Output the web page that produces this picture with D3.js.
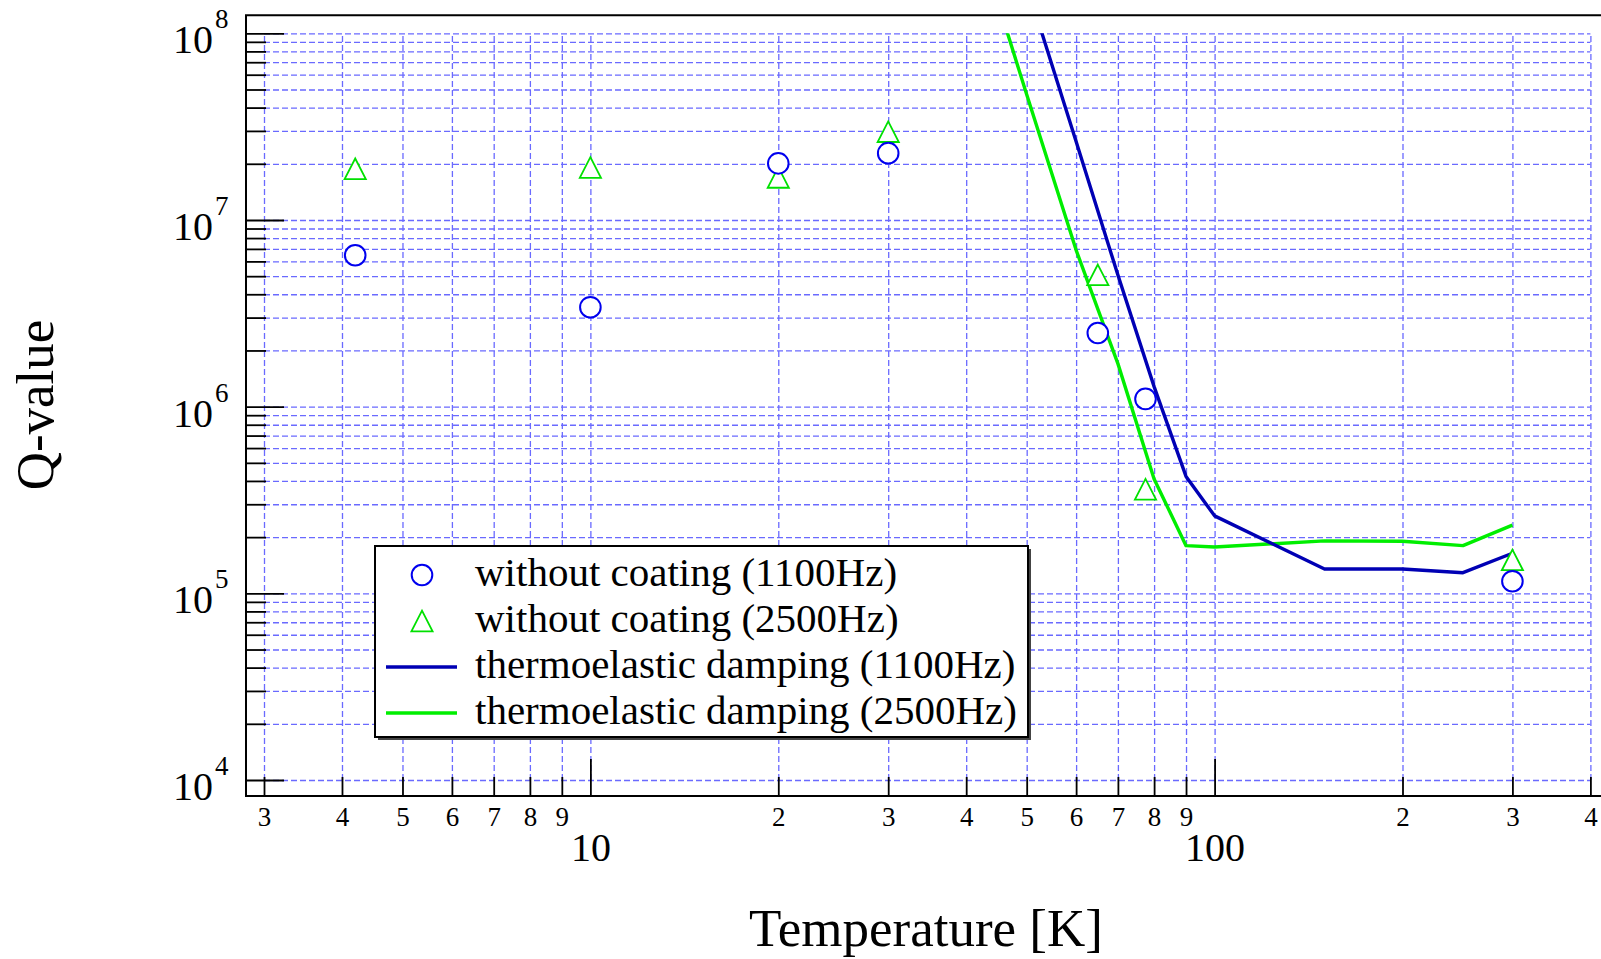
<!DOCTYPE html>
<html>
<head>
<meta charset="utf-8">
<script src="https://cdn.jsdelivr.net/npm/d3@7"></script>
<style>
  html, body { margin: 0; padding: 0; background: #fff; }
  svg { display: block; font-family: "Liberation Serif", "Times New Roman", serif; }
  .grid path, .ticks path { display: none; }
  .grid line { stroke: #6a6aff; stroke-width: 1.3; stroke-dasharray: 6 3; }
  .ticks line { stroke: #000; stroke-width: 1.8; }
  .ticks text { fill: #000; font-family: "Liberation Serif", serif; }
</style>
</head>
<body>
<div class="container"></div>
<script>
// measured Q-values (no coating)
const measuredTemps = [4.2, 10, 20, 30, 65, 77.5, 300];
const qNoCoating1100 = [6.47e6, 3.41e6, 2.01e7, 2.28e7, 2.48e6, 1.1e6, 1.16e5];
const qNoCoating2500 = [1.88e7, 1.91e7, 1.69e7, 2.97e7, 5.08e6, 3.61e5, 1.51e5];

// thermoelastic damping estimates
const modelTemps = [45, 50, 60, 70, 80, 90, 100, 150, 200, 250, 300];
const tedQ1100 = [5.5e8, 1.82e8, 2.63e7, 5.07e6, 1.28e6, 4.23e5, 2.6e5, 1.35e5, 1.35e5, 1.29e5, 1.64e5];
const tedQ2500 = [1.45e8, 4.7e7, 6.9e6, 1.7e6, 4.1e5, 1.8e5, 1.77e5, 1.91e5, 1.9e5, 1.8e5, 2.32e5];

// ticks
const minorTempTicks = [3, 4, 5, 6, 7, 8, 9, 20, 30, 40, 50, 60, 70, 80, 90, 200, 300, 400];
const majorTempTicks = [10, 100];
const qDecades = [1e4, 1e5, 1e6, 1e7, 1e8];
const qMinorSteps = [2, 3, 4, 5, 6, 7, 8, 9];

const legendLabels = [
  "without coating (1100Hz)",
  "without coating (2500Hz)",
  "thermoelastic damping (1100Hz)",
  "thermoelastic damping (2500Hz)"
];

const blueMark = "#0000ee", greenMark = "#00e000";
const blueLine = "#0000b4", greenLine = "#00ee00";

const width = 1601;
const height = 959;
const plot = { left: 264, right: 1590.4, top: 33.3, bottom: 780 };
const frame = { left: 246, top: 15.3, bottom: 796 };

const qMinorTicks = qDecades.slice(0, -1).flatMap(d => qMinorSteps.map(s => s * d));

let svg = d3.select(".container").append("svg")
  .attr("width", width).attr("height", height);

// Scales
let xScale = d3.scaleLog([3, 400], [plot.left, plot.right]);
let yScale = d3.scaleLog([1e4, 1e8], [plot.bottom, plot.top]);

// Grid
svg.append("g").attr("class", "grid")
  .attr("transform", `translate(0, ${plot.bottom})`)
  .call(d3.axisBottom(xScale).tickValues(minorTempTicks.concat(majorTempTicks))
    .tickSize(-(plot.bottom - plot.top)).tickFormat(""));

svg.append("g").attr("class", "grid")
  .attr("transform", `translate(${plot.left}, 0)`)
  .call(d3.axisLeft(yScale).tickValues(qMinorTicks.concat(qDecades))
    .tickSize(-(plot.right - plot.left)).tickFormat(""));

// Frame
svg.append("path")
  .attr("d", `M${width},${frame.top}H${frame.left}V${frame.bottom}H${width}`)
  .attr("fill", "none").attr("stroke", "#000").attr("stroke-width", 2);

// Y ticks
svg.append("g").attr("class", "ticks")
  .attr("transform", `translate(${frame.left}, 0)`)
  .call(d3.axisLeft(yScale).tickValues(qMinorTicks).tickSize(-20).tickFormat(""));
svg.append("g").attr("class", "ticks")
  .attr("transform", `translate(${frame.left}, 0)`)
  .call(d3.axisLeft(yScale).tickValues(qDecades).tickSize(-38).tickFormat(""));

let yLabels = svg.append("g").selectAll("g")
  .data(qDecades).enter().append("g")
  .attr("transform", d => `translate(0, ${yScale(d)})`);
yLabels.append("text")
  .attr("x", 213).attr("y", 20)
  .attr("text-anchor", "end").attr("font-size", 40)
  .text("10");
yLabels.append("text")
  .attr("x", 215).attr("y", -5)
  .attr("font-size", 27)
  .text(d => Math.round(Math.log10(d)));

// X ticks
const leadDigit = d => Math.round(d / Math.pow(10, Math.floor(Math.log10(d) + 1e-9)));

let xMinor = svg.append("g").attr("class", "ticks")
  .attr("transform", `translate(0, ${frame.bottom})`)
  .call(d3.axisBottom(xScale).tickValues(minorTempTicks).tickSize(-19)
    .tickPadding(11).tickFormat(leadDigit));
xMinor.selectAll("text").attr("font-size", 27);

let xMajor = svg.append("g").attr("class", "ticks")
  .attr("transform", `translate(0, ${frame.bottom})`)
  .call(d3.axisBottom(xScale).tickValues(majorTempTicks).tickSize(-37)
    .tickPadding(37).tickFormat(d3.format("d")));
xMajor.selectAll("text").attr("font-size", 40);

// Axis titles
svg.append("text")
  .attr("x", 926).attr("y", 946)
  .attr("text-anchor", "middle").attr("font-size", 53)
  .text("Temperature [K]");
svg.append("text")
  .attr("transform", "translate(53, 405) rotate(-90)")
  .attr("text-anchor", "middle").attr("font-size", 53)
  .text("Q-value");

// Curves
svg.append("clipPath").attr("id", "plot-clip")
  .append("rect")
  .attr("x", plot.left).attr("y", plot.top)
  .attr("width", plot.right - plot.left).attr("height", plot.bottom - plot.top);

let line = d3.line()
  .x(d => xScale(d[0]))
  .y(d => yScale(d[1]));

let curves = svg.append("g").attr("clip-path", "url(#plot-clip)");
curves.append("path")
  .datum(d3.zip(modelTemps, tedQ2500))
  .attr("d", line)
  .attr("fill", "none").attr("stroke", greenLine).attr("stroke-width", 3.4)
  .attr("stroke-linejoin", "round");
curves.append("path")
  .datum(d3.zip(modelTemps, tedQ1100))
  .attr("d", line)
  .attr("fill", "none").attr("stroke", blueLine).attr("stroke-width", 3.4)
  .attr("stroke-linejoin", "round");

// Markers
const triangle = "M0,-10.3L10.6,10.3L-10.6,10.3Z";

svg.append("g").selectAll("path")
  .data(d3.zip(measuredTemps, qNoCoating2500)).enter().append("path")
  .attr("d", triangle)
  .attr("transform", d => `translate(${xScale(d[0])}, ${yScale(d[1])})`)
  .attr("fill", "#fff").attr("stroke", greenMark).attr("stroke-width", 1.8);

svg.append("g").selectAll("circle")
  .data(d3.zip(measuredTemps, qNoCoating1100)).enter().append("circle")
  .attr("cx", d => xScale(d[0]))
  .attr("cy", d => yScale(d[1]))
  .attr("r", 10.3)
  .attr("fill", "#fff").attr("stroke", blueMark).attr("stroke-width", 2);

// Legend
let legend = svg.append("g").attr("transform", "translate(375, 546)");
legend.append("rect")
  .attr("x", 3).attr("y", 3).attr("width", 653).attr("height", 191)
  .attr("fill", "#444");
legend.append("rect")
  .attr("width", 653).attr("height", 191)
  .attr("fill", "#fff").attr("stroke", "#000").attr("stroke-width", 2);

let rows = legend.selectAll("g.row")
  .data(legendLabels).enter().append("g")
  .attr("class", "row")
  .attr("transform", (d, i) => `translate(0, ${29 + i * 46})`);

rows.append("text")
  .attr("x", 100).attr("y", 11)
  .attr("font-size", 41)
  .text(d => d);

rows.filter((d, i) => i === 0).append("circle")
  .attr("cx", 47).attr("r", 10.3)
  .attr("fill", "#fff").attr("stroke", blueMark).attr("stroke-width", 2);
rows.filter((d, i) => i === 1).append("path")
  .attr("d", triangle).attr("transform", "translate(47, 0)")
  .attr("fill", "#fff").attr("stroke", greenMark).attr("stroke-width", 1.8);
rows.filter((d, i) => i >= 2).append("line")
  .attr("x1", 11).attr("x2", 82)
  .attr("stroke", (d, i) => i === 0 ? blueLine : greenLine)
  .attr("stroke-width", 3.4);
</script>
</body>
</html>
